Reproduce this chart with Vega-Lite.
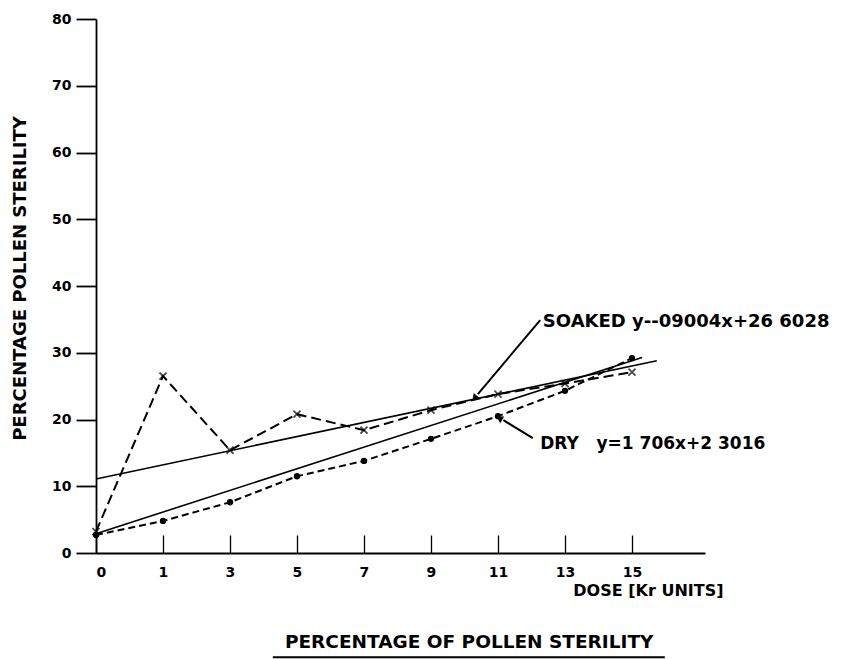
{
  "$schema": "https://vega.github.io/schema/vega-lite/v6.json",
  "width": 609,
  "height": 534,
  "autosize": {"type": "none"},
  "padding": {"left": 96, "top": 19, "right": 140, "bottom": 106},
  "background": "white",
  "config": {
    "view": {"stroke": null},
    "font": "DejaVu Sans",
    "axis": {"grid": false, "domainColor": "black", "tickColor": "black", "labelColor": "black", "titleColor": "black", "labelFont": "DejaVu Sans", "labelFontWeight": "bold", "titleFont": "DejaVu Sans", "titleFontWeight": "bold"}
  },
  "datasets": {
    "obs": [
      {"dose": "0", "idx": 0, "series": "Soaked", "pct": 3.2},
      {"dose": "1", "idx": 1, "series": "Soaked", "pct": 26.5},
      {"dose": "3", "idx": 2, "series": "Soaked", "pct": 15.4},
      {"dose": "5", "idx": 3, "series": "Soaked", "pct": 20.8},
      {"dose": "7", "idx": 4, "series": "Soaked", "pct": 18.4},
      {"dose": "9", "idx": 5, "series": "Soaked", "pct": 21.4},
      {"dose": "11", "idx": 6, "series": "Soaked", "pct": 23.8},
      {"dose": "13", "idx": 7, "series": "Soaked", "pct": 25.4},
      {"dose": "15", "idx": 8, "series": "Soaked", "pct": 27.1},
      {"dose": "0", "idx": 0, "series": "Dry", "pct": 2.7},
      {"dose": "1", "idx": 1, "series": "Dry", "pct": 4.8},
      {"dose": "3", "idx": 2, "series": "Dry", "pct": 7.6},
      {"dose": "5", "idx": 3, "series": "Dry", "pct": 11.5},
      {"dose": "7", "idx": 4, "series": "Dry", "pct": 13.8},
      {"dose": "9", "idx": 5, "series": "Dry", "pct": 17.1},
      {"dose": "11", "idx": 6, "series": "Dry", "pct": 20.5},
      {"dose": "13", "idx": 7, "series": "Dry", "pct": 24.3},
      {"dose": "15", "idx": 8, "series": "Dry", "pct": 29.2}
    ],
    "trend": [
      {"series": "Soaked", "idx": 0, "pct": 11.1},
      {"series": "Soaked", "idx": 8.37, "pct": 28.8},
      {"series": "Dry", "idx": 0, "pct": 2.9},
      {"series": "Dry", "idx": 8.15, "pct": 29.3}
    ]
  },
  "layer": [
    {
      "data": {"name": "trend"},
      "mark": {"type": "line", "color": "black", "strokeWidth": 1.6},
      "encoding": {
        "x": {"field": "idx", "type": "quantitative", "scale": {"domain": [0, 9.09], "nice": false, "zero": false},
          "axis": {"values": [0, 1, 2, 3, 4, 5, 6, 7, 8], "labelExpr": "['0','1','3','5','7','9','11','13','15'][datum.value]", "tickSize": -18, "tickWidth": 1.3, "domainWidth": 1.8, "labelPadding": 30, "labelFontSize": 14, "labelAngle": 0,
            "title": "DOSE [Kr UNITS]", "titleFontSize": 16, "titleAnchor": "end", "titleAlign": "right", "titleBaseline": "top", "titleX": 627, "titleY": 29}},
        "y": {"field": "pct", "type": "quantitative", "scale": {"domain": [0, 80], "nice": false},
          "axis": {"values": [0, 10, 20, 30, 40, 50, 60, 70, 80], "tickSize": 20, "tickWidth": 1.8, "domainWidth": 1.8, "labelPadding": 5, "labelFontSize": 14,
            "title": "PERCENTAGE POLLEN STERILITY", "titleFontSize": 18, "titleAngle": 270, "titleAlign": "center", "titleBaseline": "middle", "titleX": -76, "titleY": 259}},
        "detail": {"field": "series"}
      }
    },
    {
      "data": {"name": "obs"},
      "mark": {"type": "line", "color": "black", "strokeWidth": 2},
      "encoding": {
        "x": {"field": "idx", "type": "quantitative"},
        "y": {"field": "pct", "type": "quantitative"},
        "strokeDash": {"field": "series", "type": "nominal", "scale": {"domain": ["Soaked", "Dry"], "range": [[10, 5], [7, 4]]}, "legend": null}
      }
    },
    {
      "data": {"name": "obs"},
      "transform": [{"filter": "datum.series === 'Soaked'"}],
      "mark": {"type": "point", "shape": "M-1,-1L1,1M-1,1L1,-1", "filled": false, "stroke": "black", "strokeWidth": 1.8, "size": 50},
      "encoding": {
        "x": {"field": "idx", "type": "quantitative"},
        "y": {"field": "pct", "type": "quantitative"}
      }
    },
    {
      "data": {"name": "obs"},
      "transform": [{"filter": "datum.series === 'Dry'"}],
      "mark": {"type": "circle", "color": "black", "opacity": 1, "size": 40},
      "encoding": {
        "x": {"field": "idx", "type": "quantitative"},
        "y": {"field": "pct", "type": "quantitative"}
      }
    },
    {
      "data": {"values": [{}]},
      "mark": {"type": "rule", "color": "black", "strokeWidth": 2},
      "encoding": {"x": {"datum": 6.63}, "y": {"datum": 34.9}, "x2": {"datum": 5.7}, "y2": {"datum": 23.8}}
    },
    {
      "data": {"values": [{}]},
      "mark": {"type": "point", "shape": "triangle-up", "filled": true, "color": "black", "opacity": 1, "size": 60, "angle": 220},
      "encoding": {"x": {"datum": 5.65}, "y": {"datum": 23.2}}
    },
    {
      "data": {"values": [{}]},
      "mark": {"type": "rule", "color": "black", "strokeWidth": 2},
      "encoding": {"x": {"datum": 6.52}, "y": {"datum": 17.2}, "x2": {"datum": 6.08}, "y2": {"datum": 19.9}}
    },
    {
      "data": {"values": [{}]},
      "mark": {"type": "point", "shape": "triangle-up", "filled": true, "color": "black", "opacity": 1, "size": 60, "angle": 300},
      "encoding": {"x": {"datum": 6.02}, "y": {"datum": 20.2}}
    },
    {
      "data": {"values": [{}]},
      "mark": {"type": "text", "align": "left", "baseline": "middle", "font": "DejaVu Sans", "fontWeight": "bold", "fontSize": 18, "color": "black", "text": "SOAKED y--09004x+26 6028"},
      "encoding": {"x": {"datum": 6.67}, "y": {"datum": 34.6}}
    },
    {
      "data": {"values": [{}]},
      "mark": {"type": "text", "align": "left", "baseline": "middle", "font": "DejaVu Sans", "fontWeight": "bold", "fontSize": 17, "color": "black", "text": "DRY\u00a0\u00a0 y=1 706x+2 3016"},
      "encoding": {"x": {"datum": 6.63}, "y": {"datum": 16.3}}
    },
    {
      "data": {"values": [{}]},
      "mark": {"type": "text", "align": "center", "baseline": "middle", "font": "DejaVu Sans", "fontWeight": "bold", "fontSize": 18.5, "color": "black", "text": "PERCENTAGE OF POLLEN STERILITY"},
      "encoding": {"x": {"datum": 5.57}, "y": {"datum": -13.3}}
    },
    {
      "data": {"values": [{}]},
      "mark": {"type": "rule", "color": "black", "strokeWidth": 2},
      "encoding": {"x": {"datum": 2.64}, "x2": {"datum": 8.49}, "y": {"datum": -15.6}}
    }
  ]
}
